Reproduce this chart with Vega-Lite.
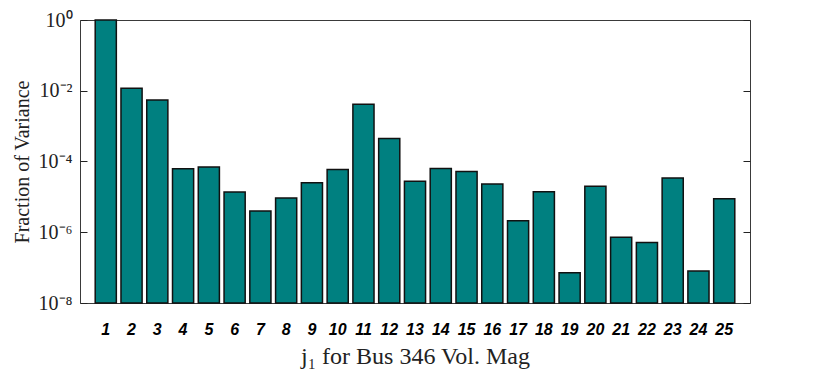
{
  "$schema": "https://vega.github.io/schema/vega-lite/v6.json",
  "width": 670,
  "height": 283,
  "autosize": {"type": "none"},
  "padding": {"left": 80, "top": 20, "right": 70, "bottom": 71},
  "background": "white",
  "config": {
    "view": {"stroke": "#3a3a3a", "strokeWidth": 1}
  },
  "data": {
    "values": [
      {"j": 1, "frac": 1.0},
      {"j": 2, "frac": 0.0117},
      {"j": 3, "frac": 0.0055},
      {"j": 4, "frac": 6.2e-5},
      {"j": 5, "frac": 7.0e-5},
      {"j": 6, "frac": 1.38e-5},
      {"j": 7, "frac": 4.0e-6},
      {"j": 8, "frac": 9.3e-6},
      {"j": 9, "frac": 2.5e-5},
      {"j": 10, "frac": 5.9e-5},
      {"j": 11, "frac": 4.14e-3},
      {"j": 12, "frac": 4.5e-4},
      {"j": 13, "frac": 2.75e-5},
      {"j": 14, "frac": 6.3e-5},
      {"j": 15, "frac": 5.2e-5},
      {"j": 16, "frac": 2.3e-5},
      {"j": 17, "frac": 2.1e-6},
      {"j": 18, "frac": 1.4e-5},
      {"j": 19, "frac": 7.2e-8},
      {"j": 20, "frac": 2.0e-5},
      {"j": 21, "frac": 7.2e-7},
      {"j": 22, "frac": 5.1e-7},
      {"j": 23, "frac": 3.4e-5},
      {"j": 24, "frac": 8.0e-8},
      {"j": 25, "frac": 8.9e-6}
    ]
  },
  "layer": [
    {
      "mark": {"type": "bar", "fill": "#008080", "stroke": "#111111", "strokeWidth": 1.5},
      "encoding": {
        "x": {
          "field": "j",
          "type": "ordinal",
          "scale": {"paddingInner": 0.18, "paddingOuter": 0.59},
          "axis": {
            "title": "j₁ for Bus 346 Vol. Mag",
            "titleFont": "Liberation Serif",
            "titleFontSize": 24,
            "titleFontWeight": "normal",
            "titleColor": "#222222",
            "titlePadding": 7,
            "labelFont": "Liberation Sans",
            "labelFontSize": 16,
            "labelFontWeight": "bold",
            "labelFontStyle": "italic",
            "labelColor": "#000000",
            "labelAngle": 0,
            "labelPadding": 18,
            "ticks": false,
            "domain": false
          }
        },
        "y": {
          "field": "frac",
          "type": "quantitative",
          "stack": null,
          "scale": {"type": "log", "domain": [1e-8, 1]},
          "axis": {
            "title": "Fraction of Variance",
            "titleFont": "Liberation Serif",
            "titleFontSize": 20,
            "titleFontWeight": "normal",
            "titleColor": "#222222",
            "titlePadding": 6,
            "values": [1, 0.01, 0.0001, 1e-6, 1e-8],
            "labelExpr": "'10' + (round(log(datum.value)/LN10) == 0 ? '⁰' : round(log(datum.value)/LN10) == -2 ? '⁻²' : round(log(datum.value)/LN10) == -4 ? '⁻⁴' : round(log(datum.value)/LN10) == -6 ? '⁻⁶' : '⁻⁸')",
            "labelFont": "Liberation Serif",
            "labelFontSize": 20,
            "labelColor": "#222222",
            "labelPadding": 15,
            "tickSize": -7,
            "tickColor": "#222222",
            "domain": false,
            "grid": false
          }
        },
        "y2": {"datum": 1e-8}
      }
    },
    {
      "mark": {"type": "rule", "strokeOpacity": 0},
      "encoding": {
        "y": {
          "field": "frac",
          "type": "quantitative",
          "axis": {
            "orient": "right",
            "title": null,
            "labels": false,
            "values": [1, 0.01, 0.0001, 1e-6, 1e-8],
            "tickSize": -7,
            "tickColor": "#222222",
            "domain": false,
            "grid": false
          }
        }
      }
    }
  ],
  "resolve": {"axis": {"y": "independent"}}
}
